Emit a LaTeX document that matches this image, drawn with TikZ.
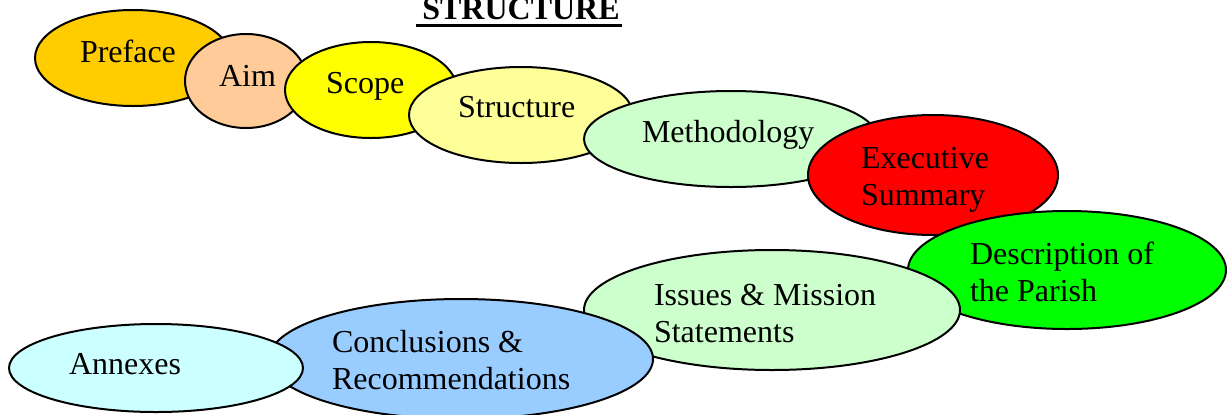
\documentclass[tikz,border=0pt]{standalone}
\usepackage{fontspec}
\setmainfont{Liberation Serif}
\usetikzlibrary{shapes.geometric}
\definecolor{cPreface}{HTML}{FFCC00}
\definecolor{cAim}{HTML}{FFCC99}
\definecolor{cScope}{HTML}{FFFF00}
\definecolor{cStruct}{HTML}{FFFF99}
\definecolor{cMeth}{HTML}{CCFFCC}
\definecolor{cExec}{HTML}{FF0000}
\definecolor{cDesc}{HTML}{00FF00}
\definecolor{cIssues}{HTML}{CCFFCC}
\definecolor{cConc}{HTML}{99CCFF}
\definecolor{cAnnex}{HTML}{CCFFFF}
\tikzset{
  oval/.style={ellipse, draw=black, line width=1pt, inner sep=0pt, outer sep=0pt},
  lbl/.style={inner sep=0pt, outer sep=0pt, anchor=base west},
}
\begin{document}
\begin{tikzpicture}[x=0.5pt, y=-0.5pt, font=\fontsize{16}{18.5}\selectfont]
\useasboundingbox (0,0) rectangle (1232,414);
% title
\node[inner sep=0pt, anchor=base] (title) at (521,19) {\bfseries STRUCTURE};
\draw[line width=1.5pt] ([xshift=-3pt,yshift=-3.3pt]title.base west) -- ([xshift=1pt,yshift=-3.3pt]title.base east);
% ellipses with labels
\node[oval, fill=cPreface, minimum width=98pt, minimum height=48pt] (preface) at (133,58) {};
\node[lbl] (tpreface) at (80,62) {Preface};
\node[oval, fill=cAim, minimum width=61pt, minimum height=47pt] (aim) at (246,81) {};
\node[lbl] (taim) at (219,86) {Aim};
\node[oval, fill=cScope, minimum width=86pt, minimum height=48pt] (scope) at (371,90) {};
\node[lbl] (tscope) at (326,93) {Scope};
\node[oval, fill=cStruct, minimum width=112pt, minimum height=48pt] (structure) at (521,115) {};
\node[lbl] (tstructure) at (458,117) {Structure};
\node[oval, fill=cMeth, minimum width=147pt, minimum height=48pt] (method) at (731,139) {};
\node[lbl] (tmethod) at (642,142) {Methodology};
\node[oval, fill=cExec, minimum width=125pt, minimum height=60pt] (exec) at (933,175) {};
\node[lbl] (texec) at (861,168) {\begin{tabular}[t]{@{}l@{}}Executive\\Summary\end{tabular}};
\node[oval, fill=cDesc, minimum width=159pt, minimum height=59pt] (desc) at (1067,270) {};
\node[lbl] (tdesc) at (970,264) {\begin{tabular}[t]{@{}l@{}}Description of\\the Parish\end{tabular}};
\node[oval, fill=cIssues, minimum width=188pt, minimum height=60pt] (issues) at (772,310) {};
\node[lbl] (tissues) at (654,305) {\begin{tabular}[t]{@{}l@{}}Issues \& Mission\\Statements\end{tabular}};
\node[oval, fill=cConc, minimum width=192pt, minimum height=60pt] (conc) at (461,359) {};
\node[lbl] (tconc) at (332,352) {\begin{tabular}[t]{@{}l@{}}Conclusions \&\\Recommendations\end{tabular}};
\node[oval, fill=cAnnex, minimum width=147pt, minimum height=44pt] (annex) at (156,368) {};
\node[lbl] (tannex) at (69,374) {Annexes};
\end{tikzpicture}
\end{document}
